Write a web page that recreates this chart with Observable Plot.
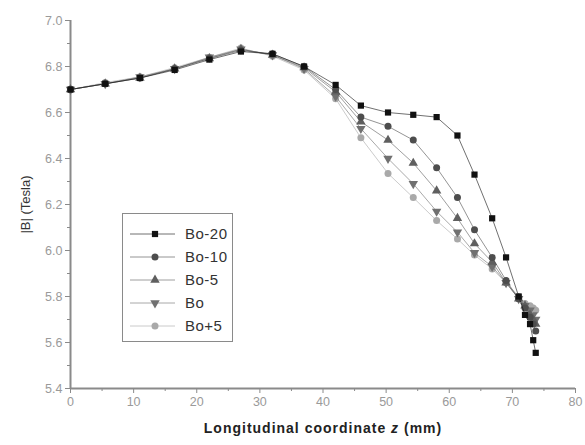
<!DOCTYPE html>
<html>
<head>
<meta charset="utf-8">
<script src="https://cdn.jsdelivr.net/npm/d3@7"></script>
<script src="https://cdn.jsdelivr.net/npm/@observablehq/plot@0.6"></script>
<style>
  html, body { margin: 0; padding: 0; background: #fff; }
  #wrap { position: relative; width: 585px; height: 445px; font-family: "Liberation Sans", Arial, sans-serif; }
  #legend { position: absolute; left: 122px; top: 213px; }
</style>
</head>
<body>
<div id="wrap"></div>
<script>
// ---- data ----
const zValues = [0, 5.5, 11, 16.5, 22, 27, 32, 37, 42, 46, 50.3, 54.3, 58, 61.3, 64, 66.8, 69, 71, 72, 72.8, 73.3, 73.7];
const seriesNames = ["Bo-20", "Bo-10", "Bo-5", "Bo", "Bo+5"];
const bo20 = [6.70, 6.725, 6.75, 6.785, 6.83, 6.865, 6.855, 6.80, 6.72, 6.63, 6.60, 6.59, 6.58, 6.50, 6.33, 6.14, 5.97, 5.80, 5.72, 5.68, 5.61, 5.555];
const bo10 = [6.70, 6.725, 6.75, 6.79, 6.835, 6.87, 6.855, 6.80, 6.70, 6.58, 6.54, 6.48, 6.36, 6.23, 6.09, 5.97, 5.87, 5.79, 5.75, 5.71, 5.68, 5.65];
const bo5  = [6.70, 6.725, 6.75, 6.79, 6.835, 6.875, 6.85, 6.795, 6.69, 6.56, 6.48, 6.38, 6.26, 6.14, 6.03, 5.95, 5.86, 5.79, 5.76, 5.72, 5.70, 5.68];
const bo   = [6.70, 6.725, 6.755, 6.79, 6.84, 6.875, 6.85, 6.79, 6.67, 6.53, 6.40, 6.29, 6.17, 6.08, 5.99, 5.93, 5.86, 5.79, 5.76, 5.74, 5.72, 5.70];
const boP5 = [6.70, 6.73, 6.755, 6.795, 6.84, 6.88, 6.845, 6.785, 6.66, 6.49, 6.335, 6.23, 6.13, 6.05, 5.98, 5.92, 5.86, 5.80, 5.77, 5.76, 5.75, 5.74];
const seriesValues = [bo20, bo10, bo5, bo, boP5];
const xTicks = [0, 10, 20, 30, 40, 50, 60, 70, 80];
const xMinorTicks = [5, 15, 25, 35, 45, 55, 65, 75];
const yTicks = [5.4, 5.6, 5.8, 6.0, 6.2, 6.4, 6.6, 6.8, 7.0];
const yMinorTicks = [5.5, 5.7, 5.9, 6.1, 6.3, 6.5, 6.7, 6.9];

// ---- styles ----
const colors = ["#111111", "#4d4d4d", "#5f5f5f", "#707070", "#a9a9a9"];
const symbols = ["square", "circle", "triangle", "triangle", "circle"];
const rotations = [0, 0, 0, 180, 0];
const axisColor = "#8a8a8a";

const rows = seriesNames.map((name, i) => zValues.map((z, j) => ({series: name, z, b: seriesValues[i][j]})));

const marks = [
  Plot.ruleX([0], {stroke: axisColor, strokeWidth: 2}),
  Plot.ruleY([5.4], {stroke: axisColor, strokeWidth: 2}),
  Plot.axisY(yTicks, {tickSize: 5, tickPadding: 3, stroke: axisColor, fill: "#9a9a9a", tickFormat: d3.format(".1f"),
    label: "|B| (Tesla)", labelAnchor: "center", labelArrow: "none", labelOffset: 50, fontSize: 12.5}),
  Plot.axisY(yMinorTicks, {tickSize: 3, stroke: axisColor, tickFormat: () => "", label: null}),
  Plot.axisX(xTicks, {tickSize: 5, tickPadding: 4, stroke: axisColor, fill: "#9a9a9a",
    label: "Longitudinal coordinate z (mm)", labelAnchor: "center", labelArrow: "none", labelOffset: 44, fontSize: 12.5}),
  Plot.axisX(xMinorTicks, {tickSize: 3, stroke: axisColor, tickFormat: () => "", label: null})
];
for (let i = seriesNames.length - 1; i >= 0; i--) {
  marks.push(Plot.line(rows[i], {x: "z", y: "b", stroke: colors[i], strokeWidth: 1, strokeOpacity: 0.6}));
  marks.push(Plot.dot(rows[i], {x: "z", y: "b", symbol: symbols[i], rotate: rotations[i], r: 3.5, fill: colors[i], stroke: "none"}));
}

const chart = Plot.plot({
  width: 585, height: 445,
  marginLeft: 70, marginRight: 10, marginTop: 20, marginBottom: 57,
  style: {fontFamily: "Liberation Sans, Arial, sans-serif", background: "#fff"},
  x: {domain: [0, 80]},
  y: {domain: [5.4, 7.0]},
  marks
});
document.getElementById("wrap").appendChild(chart);

// style axis titles
const svg = d3.select(chart);
svg.selectAll('g[aria-label="x-axis label"] text').each(function() {
  const t = d3.select(this);
  t.text(null).attr("font-weight", "bold").attr("font-size", 14).attr("letter-spacing", "1px").attr("fill", "#222");
  t.append("tspan").text("Longitudinal coordinate ");
  t.append("tspan").attr("font-style", "italic").text("z");
  t.append("tspan").text(" (mm)");
});
svg.selectAll('g[aria-label="y-axis label"] text').attr("font-size", 13).attr("fill", "#333");

// legend
const lg = d3.select("#wrap").append("svg").attr("id", "legend").attr("width", 112).attr("height", 130);
lg.append("rect").attr("x", 0.5).attr("y", 0.5).attr("width", 110).attr("height", 128)
  .attr("fill", "#fff").attr("stroke", "#8a8a8a").attr("stroke-width", 1);
seriesNames.forEach((name, i) => {
  const y = 21 + i * 23;
  lg.append("line").attr("x1", 8).attr("x2", 53).attr("y1", y).attr("y2", y)
    .attr("stroke", colors[i]).attr("stroke-opacity", 0.6);
  const type = symbols[i] === "square" ? d3.symbolSquare : symbols[i] === "triangle" ? d3.symbolTriangle : d3.symbolCircle;
  lg.append("path").attr("d", d3.symbol(type, Math.PI * 3.5 * 3.5)())
    .attr("transform", `translate(33,${y}) rotate(${rotations[i]})`).attr("fill", colors[i]);
  lg.append("text").attr("x", 63).attr("y", y).attr("dy", "0.35em").attr("font-size", 15).attr("letter-spacing", "0.5px")
    .attr("font-family", "Liberation Sans, Arial, sans-serif").attr("fill", "#333").text(name);
});
</script>
</body>
</html>
